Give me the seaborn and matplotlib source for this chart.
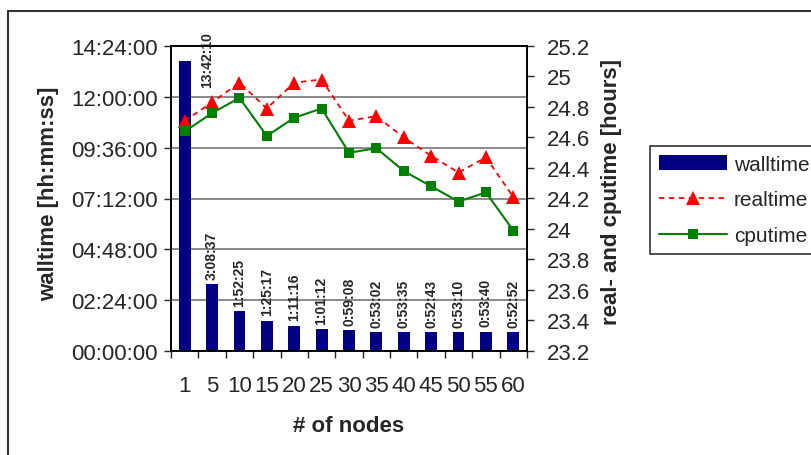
import numpy as np
import pandas as pd
import matplotlib
matplotlib.use("Agg")
import matplotlib.pyplot as plt
import seaborn as sns
from matplotlib.patches import Patch, Rectangle
from matplotlib.lines import Line2D
from matplotlib.ticker import FuncFormatter, MultipleLocator

# ---- data ----
nodes = ["1", "5", "10", "15", "20", "25", "30", "35", "40", "45", "50", "55", "60"]
walltime_labels = ["13:42:10", "3:08:37", "1:52:25", "1:25:17", "1:11:16", "1:01:12",
                   "0:59:08", "0:53:02", "0:53:35", "0:52:43", "0:53:10", "0:53:40", "0:52:52"]
realtime = [24.71, 24.83, 24.96, 24.79, 24.96, 24.98, 24.71, 24.74, 24.60, 24.48, 24.37, 24.47, 24.21]
cputime = [24.64, 24.76, 24.86, 24.61, 24.73, 24.79, 24.50, 24.53, 24.38, 24.28, 24.18, 24.24, 23.99]


def to_sec(s):
    h, m, sec = (int(v) for v in s.split(":"))
    return h * 3600 + m * 60 + sec


walltime_sec = [to_sec(s) for s in walltime_labels]
df = pd.DataFrame({"nodes": nodes, "walltime": walltime_sec,
                   "realtime": realtime, "cputime": cputime, "pos": np.arange(len(nodes))})

sns.set_style("ticks")
plt.rcParams["font.family"] = ["Liberation Sans", "DejaVu Sans"]

W, H = 811, 456
fig = plt.figure(figsize=(W / 100, H / 100), dpi=100)
ax = fig.add_axes([171 / W, 1 - 352 / H, (527 - 171) / W, (352 - 47) / H])

navy = "#000080"
sns.barplot(data=df, x="nodes", y="walltime", color=navy, saturation=1, width=0.43,
            linewidth=0, ax=ax, zorder=2)
ax.set_xlim(-0.5, len(nodes) - 0.5)
ax.set_ylim(0, 51840)
ax.yaxis.set_major_locator(MultipleLocator(8640))


def hms(v, pos):
    v = int(round(v))
    return "%02d:%02d:%02d" % (v // 3600, (v % 3600) // 60, v % 60)


ax.yaxis.set_major_formatter(FuncFormatter(hms))
ax.grid(axis="y", color="#6a6a6a", linewidth=1.1)
ax.set_axisbelow(True)
# first label is moved beside its bar (as in the original), the others sit on top
ax.bar_label(ax.containers[0], labels=[""] + walltime_labels[1:], rotation=90, padding=4,
             fontweight="bold", fontsize=10)
ax.text(0.81, 44870, walltime_labels[0], rotation=90, ha="center", va="bottom",
        fontweight="bold", fontsize=10)

ax.set_xticks(np.arange(-0.5, len(nodes), 1), minor=True)
ax.tick_params(axis="x", which="major", length=0, pad=17, labelsize=16)
ax.tick_params(axis="x", which="minor", length=5, width=1, direction="out")
ax.tick_params(axis="y", length=5, width=1, direction="out", pad=4.5, labelsize=16)
for sp in ax.spines.values():
    sp.set_color("black")
    sp.set_linewidth(1.2)

ax.set_xlabel("# of nodes", fontsize=16, fontweight="bold", va="center")
ax.xaxis.set_label_coords(0.5, (352 - 427) / (352 - 47))
ax.set_ylabel("walltime [hh:mm:ss]", fontsize=16, fontweight="bold", va="center")
ax.yaxis.set_label_coords((49 - 171) / (527 - 171), (352 - 194) / (352 - 47))

ax2 = ax.twinx()
sns.lineplot(data=df, x="pos", y="realtime", ax=ax2, color="red", linewidth=1.3,
             dashes=False, marker="^", markersize=10, markeredgewidth=0)
ax2.lines[-1].set_dashes((3, 2.5))
sns.lineplot(data=df, x="pos", y="cputime", ax=ax2, color="#008000", linewidth=1.5,
             marker="s", markersize=7.5, markeredgewidth=0)
ax2.set_xlim(-0.5, len(nodes) - 0.5)
ax2.set_ylim(23.2, 25.2)
ax2.yaxis.set_major_locator(MultipleLocator(0.2))
ax2.yaxis.set_major_formatter(FuncFormatter(lambda v, p: ("%.1f" % v).rstrip("0").rstrip(".")))
ax2.tick_params(axis="y", length=5, width=1, direction="out", pad=9, labelsize=16)
ax2.set_ylabel("real- and cputime [hours]", fontsize=16, fontweight="bold", va="center")
ax2.yaxis.set_label_coords((611 - 171) / (527 - 171), (352 - 192) / (352 - 47))
ax2.set_xlabel("")
for sp in ax2.spines.values():
    sp.set_color("black")
    sp.set_linewidth(1.2)

handles = [
    Patch(facecolor=navy, edgecolor="none"),
    Line2D([], [], color="red", linewidth=1.3, dashes=(3, 2.5), marker="^",
           markersize=10, markeredgewidth=0),
    Line2D([], [], color="#008000", linewidth=1.5, marker="s", markersize=7.5,
           markeredgewidth=0),
]
leg = fig.legend(handles, ["walltime", "realtime", "cputime"], loc="upper left",
                 bbox_to_anchor=(650 / W, 1 - 147 / H), fontsize=15, frameon=True,
                 fancybox=False, edgecolor="black", handlelength=3.26,
                 handletextpad=0.34, labelspacing=0.8, borderpad=0.42,
                 borderaxespad=0)
leg.get_frame().set_linewidth(1.2)

fig.patches.append(Rectangle((8 / W, -0.1), 1.0, 1.1 - 12 / H, transform=fig.transFigure,
                             fill=False, edgecolor="#333333", linewidth=1.5))

fig.savefig("out.png", dpi=100)
